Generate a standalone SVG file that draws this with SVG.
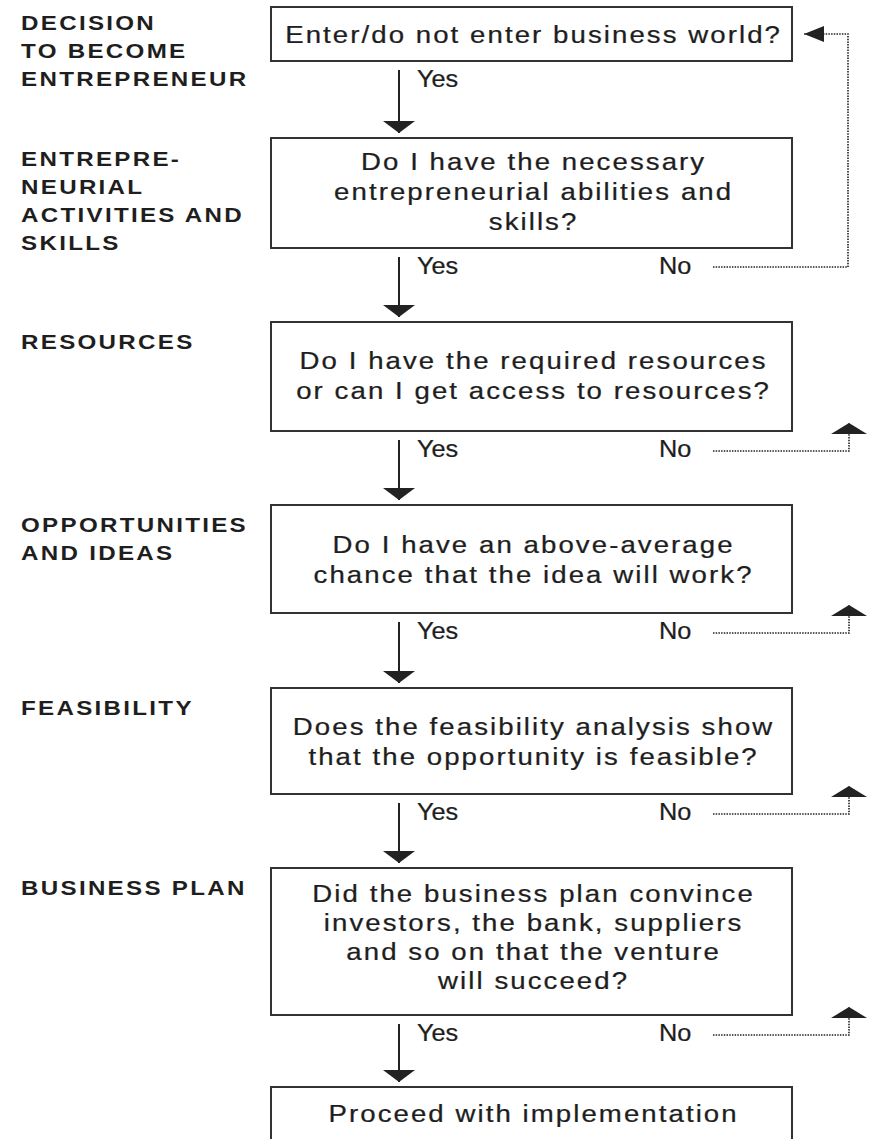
<svg xmlns="http://www.w3.org/2000/svg" width="873" height="1139" viewBox="0 0 873 1139">
<style>
.box{fill:#fff;stroke:#333;stroke-width:2}
.q{font-family:"Liberation Sans",Arial,Helvetica,sans-serif;font-size:24px;letter-spacing:1.8px;fill:#1e1e1e;stroke:#1e1e1e;stroke-width:0.25;text-anchor:middle}
.lbl{font-family:"Liberation Sans",Arial,Helvetica,sans-serif;font-size:21px;font-weight:bold;letter-spacing:2px;fill:#1e1e1e}
.yn{font-family:"Liberation Sans",Arial,Helvetica,sans-serif;font-size:23px;fill:#1e1e1e;stroke:#1e1e1e;stroke-width:0.25}
.solid{fill:none;stroke:#222;stroke-width:2;marker-end:url(#down)}
.dot{fill:none;stroke:#222;stroke-width:1.6;stroke-dasharray:1.5 1.2}
.dotup{marker-end:url(#up)}
.dotleft{marker-end:url(#left)}
</style>
<defs>
<marker id="down" markerUnits="userSpaceOnUse" viewBox="0 0 12 32" refX="12" refY="16" markerWidth="12" markerHeight="32" orient="auto">
<path d="M0,0 L12,16 L0,32 Z" fill="#222"/>
</marker>
<marker id="up" markerUnits="userSpaceOnUse" viewBox="0 0 11 36" refX="11" refY="18" markerWidth="11" markerHeight="36" orient="auto">
<path d="M0,0 L11,18 L0,36 Z" fill="#222"/>
</marker>
<marker id="left" markerUnits="userSpaceOnUse" viewBox="0 0 20 16" refX="20" refY="8" markerWidth="20" markerHeight="16" orient="auto">
<path d="M0,0 L20,8 L0,16 Z" fill="#222"/>
</marker>
</defs>
<rect width="873" height="1139" fill="#fff"/>

<g id="labels" transform="scale(1.15,1)">
<text class="lbl" x="18.3" y="30">DECISION</text>
<text class="lbl" x="18.3" y="58">TO BECOME</text>
<text class="lbl" x="18.3" y="86">ENTREPRENEUR</text>
<text class="lbl" x="18.3" y="166">ENTREPRE-</text>
<text class="lbl" x="18.3" y="194">NEURIAL</text>
<text class="lbl" x="18.3" y="222">ACTIVITIES AND</text>
<text class="lbl" x="18.3" y="250">SKILLS</text>
<text class="lbl" x="18.3" y="349">RESOURCES</text>
<text class="lbl" x="18.3" y="532">OPPORTUNITIES</text>
<text class="lbl" x="18.3" y="560">AND IDEAS</text>
<text class="lbl" x="18.3" y="715">FEASIBILITY</text>
<text class="lbl" x="18.3" y="895">BUSINESS PLAN</text>
</g>

<g id="n1">
<rect class="box" x="271" y="7" width="521" height="54"/>
<text class="q" transform="scale(1.15,1)" x="464" y="43">Enter/do not enter business world?</text>
</g>
<g id="n2">
<rect class="box" x="271" y="138" width="521" height="110"/>
<g transform="scale(1.15,1)">
<text class="q" x="464" y="170">Do I have the necessary</text>
<text class="q" x="464" y="200">entrepreneurial abilities and</text>
<text class="q" x="464" y="230">skills?</text>
</g>
</g>
<g id="n3">
<rect class="box" x="271" y="322" width="521" height="109"/>
<g transform="scale(1.15,1)">
<text class="q" x="464" y="369">Do I have the required resources</text>
<text class="q" x="464" y="399">or can I get access to resources?</text>
</g>
</g>
<g id="n4">
<rect class="box" x="271" y="505" width="521" height="108"/>
<g transform="scale(1.15,1)">
<text class="q" x="464" y="553">Do I have an above-average</text>
<text class="q" x="464" y="583">chance that the idea will work?</text>
</g>
</g>
<g id="n5">
<rect class="box" x="271" y="688" width="521" height="106"/>
<g transform="scale(1.15,1)">
<text class="q" x="464" y="735">Does the feasibility analysis show</text>
<text class="q" x="464" y="765">that the opportunity is feasible?</text>
</g>
</g>
<g id="n6">
<rect class="box" x="271" y="868" width="521" height="147"/>
<g transform="scale(1.15,1)">
<text class="q" x="464" y="902">Did the business plan convince</text>
<text class="q" x="464" y="931">investors, the bank, suppliers</text>
<text class="q" x="464" y="960">and so on that the venture</text>
<text class="q" x="464" y="989">will succeed?</text>
</g>
</g>
<g id="n7">
<rect class="box" x="271" y="1087" width="521" height="70"/>
<text class="q" transform="scale(1.15,1)" x="464" y="1122">Proceed with implementation</text>
</g>

<g id="connectors">
<path class="solid" d="M399,70 V133"/>
<path class="solid" d="M399,257 V317"/>
<path class="solid" d="M399,440 V500"/>
<path class="solid" d="M399,622 V683"/>
<path class="solid" d="M399,803 V863"/>
<path class="solid" d="M399,1024 V1082"/>

<path class="dot dotleft" d="M713,267 H848 V34 H804"/>
<path class="dot dotup" d="M713,451 H849 V423"/>
<path class="dot dotup" d="M713,633 H849 V605"/>
<path class="dot dotup" d="M713,814 H849 V786"/>
<path class="dot dotup" d="M713,1035 H849 V1007"/>

<g transform="scale(1.1,1)">
<text class="yn" x="379.1" y="87">Yes</text>
<text class="yn" x="379.1" y="274">Yes</text>
<text class="yn" x="599.1" y="274">No</text>
<text class="yn" x="379.1" y="457">Yes</text>
<text class="yn" x="599.1" y="457">No</text>
<text class="yn" x="379.1" y="639">Yes</text>
<text class="yn" x="599.1" y="639">No</text>
<text class="yn" x="379.1" y="820">Yes</text>
<text class="yn" x="599.1" y="820">No</text>
<text class="yn" x="379.1" y="1041">Yes</text>
<text class="yn" x="599.1" y="1041">No</text>
</g>
</g>
</svg>
